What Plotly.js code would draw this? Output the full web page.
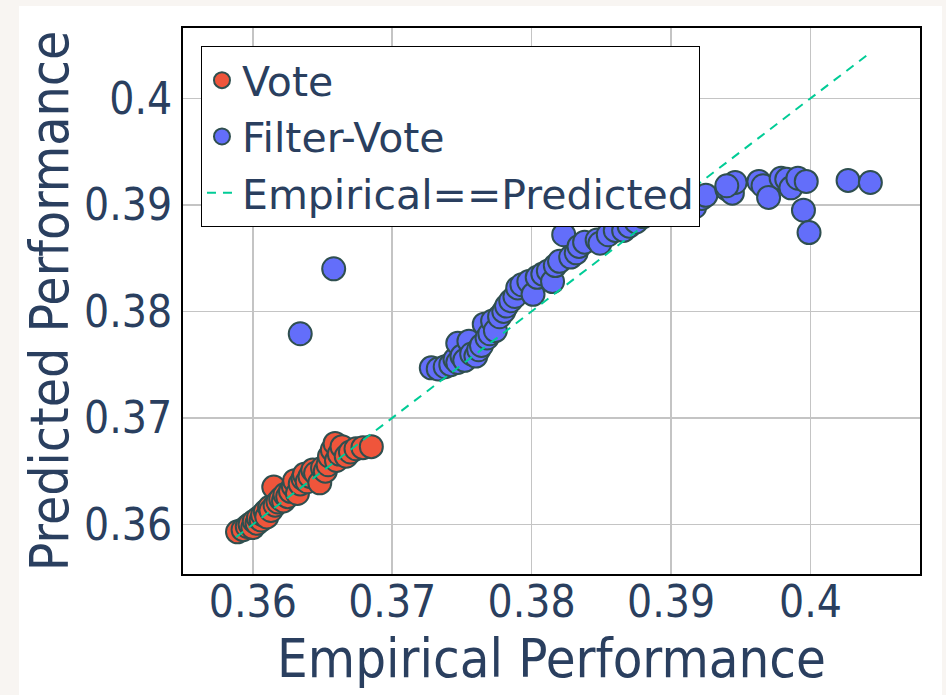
<!DOCTYPE html>
<html>
<head>
<meta charset="utf-8">
<script src="https://cdn.plot.ly/plotly-3.0.1.min.js"></script>
<style>
  html, body { margin: 0; padding: 0; background: #f8f5f2; width: 946px; height: 695px; overflow: hidden; }
  #chart { position: absolute; left: 19px; top: 6px; width: 923px; height: 689px; background: #ffffff; }
</style>
</head>
<body>
<div id="chart"></div>
<script>
// Vote series (empirical, predicted)
const voteX = [0.3589,0.3593,0.3596,0.3598,0.3600,0.3601,0.3603,0.3604,0.3606,0.3607,0.3609,0.3610,0.3612,0.3613,0.3615,0.3616,0.3618,0.3620,0.3622,0.3623,0.3625,0.3627,0.3629,0.3630,0.3632,0.3634,0.3636,0.3637,0.3639,0.3641,0.3643,0.3645,0.3648,0.3650,0.3652,0.3654,0.3655,0.3657,0.3659,0.3660,0.3662,0.3664,0.3667,0.3670,0.3674,0.3679,0.3685];
const voteY = [0.3593,0.3595,0.3598,0.3600,0.3597,0.3603,0.3601,0.3606,0.3604,0.3609,0.3612,0.3607,0.3616,0.3613,0.3635,0.3618,0.3621,0.3624,0.3622,0.3628,0.3626,0.3631,0.3636,0.3641,0.3629,0.3638,0.3643,0.3647,0.3640,0.3645,0.3651,0.3648,0.3639,0.3653,0.3650,0.3656,0.3664,0.3670,0.3676,0.3660,0.3666,0.3673,0.3664,0.3668,0.3671,0.3672,0.3673];

// Filter-Vote series (empirical, predicted)
const filterX = [0.3634,0.3658,0.3728,0.3733,0.3738,0.3742,0.3745,0.3747,0.3747,0.3750,0.3752,0.3755,0.3757,0.3760,0.3762,0.3764,0.3766,0.3768,0.3770,0.3772,0.3774,0.3777,0.3780,0.3782,0.3785,0.3788,0.3790,0.3793,0.3798,0.3801,0.3804,0.3808,0.3812,0.3815,0.3817,0.3820,0.3823,0.3828,0.3832,0.3834,0.3838,0.3847,0.3849,0.3855,0.3860,0.3866,0.3870,0.3875,0.3880,0.3885,0.3890,0.3895,0.3905,0.3912,0.3917,0.3922,0.3925,0.3940,0.3944,0.3946,0.3940,0.3963,0.3966,0.3970,0.3979,0.3983,0.3986,0.3991,0.3997,0.3995,0.3999,0.4027,0.4043];
const filterY = [0.3779,0.3840,0.3747,0.3746,0.3748,0.3750,0.3755,0.3752,0.3770,0.3758,0.3754,0.3772,0.3760,0.3758,0.3764,0.3768,0.3788,0.3775,0.3779,0.3791,0.3782,0.3795,0.3800,0.3805,0.3810,0.3814,0.3822,0.3825,0.3828,0.3816,0.3832,0.3835,0.3838,0.3828,0.3843,0.3847,0.3872,0.3851,0.3855,0.3861,0.3865,0.3867,0.3864,0.3872,0.3876,0.3876,0.3880,0.3884,0.3889,0.3893,0.3897,0.3899,0.3901,0.3897,0.3898,0.3906,0.3909,0.3915,0.3911,0.3921,0.3918,0.3922,0.3918,0.3907,0.3925,0.3924,0.3916,0.3925,0.3922,0.3895,0.3874,0.3923,0.3921];

// Reference line endpoints (Empirical == Predicted)
const lineX = [0.3588, 0.4044];
const lineY = [0.3588, 0.4044];

const tickVals = [0.36, 0.37, 0.38, 0.39, 0.4];
const tickText = ['0.36', '0.37', '0.38', '0.39', '0.4'];

const FONT = 'DejaVu Sans, Verdana, sans-serif';
const FONT_C = 'DejaVu Sans Condensed, DejaVu Sans, sans-serif';
const TXT = '#2a3f5f';
const mk = (c) => ({ color: c, size: 23, line: { color: 'DarkSlateGrey', width: 2 } });

const traces = [
  { x: voteX, y: voteY, mode: 'markers', type: 'scatter', name: 'Vote', marker: mk('#EF553B') },
  { x: filterX, y: filterY, mode: 'markers', type: 'scatter', name: 'Filter-Vote', marker: mk('#636EFA') },
  { x: lineX, y: lineY, mode: 'lines', type: 'scatter', name: 'Empirical==Predicted',
    line: { color: '#00CC96', width: 2, dash: '9px,7px' } }
];

const axisCommon = {
  showgrid: true, gridcolor: '#c4c4c4', gridwidth: 1.5,
  zeroline: false, showline: true, linecolor: '#000000', linewidth: 2, mirror: true,
  ticks: '', tickfont: { family: FONT_C, size: 44, color: TXT },
  tickvals: tickVals, ticktext: tickText
};

const layout = {
  width: 923, height: 689,
  margin: { l: 164, r: 22, t: 22, b: 121 },
  paper_bgcolor: '#ffffff', plot_bgcolor: '#ffffff',
  font: { family: FONT, color: TXT },
  showlegend: true,
  legend: {
    x: 0.0244, y: 0.967, xanchor: 'left', yanchor: 'top',
    bgcolor: '#ffffff', bordercolor: '#000000', borderwidth: 1,
    font: { family: FONT, size: 41, color: TXT }
  },
  xaxis: Object.assign({}, axisCommon, {
    range: [0.35499, 0.40786],
    ticklabelstandoff: -12,
    title: { text: 'Empirical Performance', font: { family: FONT_C, size: 54, color: TXT }, standoff: 8 }
  }),
  yaxis: Object.assign({}, axisCommon, {
    range: [0.35534, 0.40661],
    title: { text: 'Predicted Performance', font: { family: FONT_C, size: 53, color: TXT }, standoff: 6 }
  })
};

Plotly.newPlot('chart', traces, layout, { displayModeBar: false, staticPlot: true });
</script>
</body>
</html>
